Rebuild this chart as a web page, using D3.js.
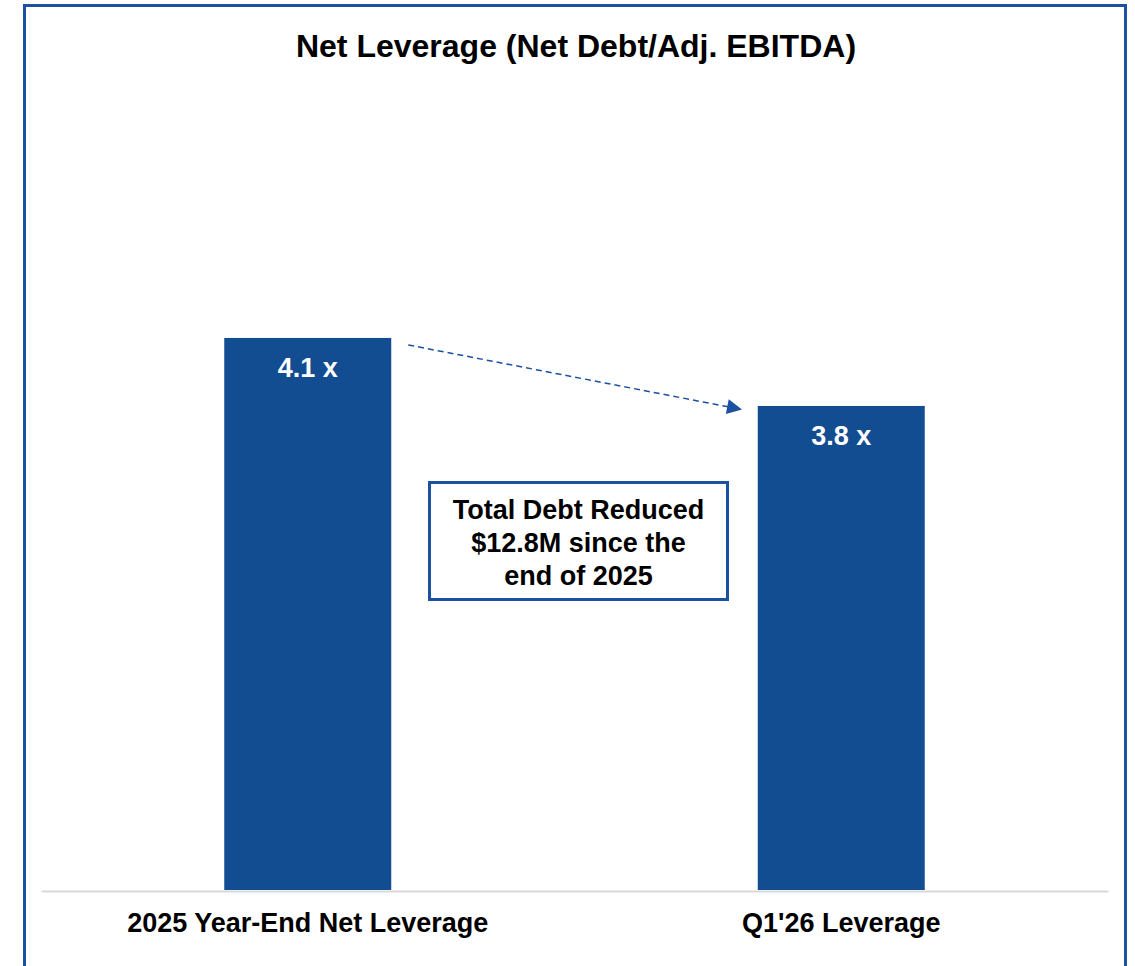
<!DOCTYPE html>
<html>
<head>
<meta charset="utf-8">
<script src="https://cdn.jsdelivr.net/npm/d3@7"></script>
<style>
  html, body { margin: 0; padding: 0; background: #fff; }
  svg { display: block; font-family: "Liberation Sans", Arial, sans-serif; }
</style>
</head>
<body>
<div id="chart"></div>
<script>
const title = "Net Leverage (Net Debt/Adj. EBITDA)";
const categories = ["2025 Year-End Net Leverage", "Q1'26 Leverage"];
const values = [4.1, 3.8];
const valueLabels = ["4.1 x", "3.8 x"];
const calloutLines = ["Total Debt Reduced", "$12.8M since the", "end of 2025"];

const W = 1135, H = 966;
const blue = "#124C91";
const borderBlue = "#1C50A0";

const svg = d3.select("#chart").append("svg").attr("width", W).attr("height", H);

// outer frame
svg.append("rect")
  .attr("x", 24.5).attr("y", 5.5).attr("width", 1101).attr("height", 980)
  .attr("fill", "none").attr("stroke", borderBlue).attr("stroke-width", 3);

// title
svg.append("text")
  .attr("x", 576).attr("y", 57)
  .attr("text-anchor", "middle")
  .attr("font-size", 32).attr("font-weight", "bold").attr("fill", "#000")
  .text(title);

const x = d3.scaleBand().domain(categories).range([41, 1108])
  .paddingInner(0.687).paddingOuter(0.3435);
const y = d3.scaleLinear().domain([1.664, 5]).range([890, 134]);

// bars
svg.selectAll("rect.bar").data(values).join("rect")
  .attr("class", "bar")
  .attr("x", (d, i) => x(categories[i]))
  .attr("y", d => y(d))
  .attr("width", x.bandwidth())
  .attr("height", d => y.range()[0] - y(d))
  .attr("fill", blue);

// value labels inside bars
svg.selectAll("text.val").data(values).join("text")
  .attr("class", "val")
  .attr("x", (d, i) => x(categories[i]) + x.bandwidth() / 2)
  .attr("y", d => y(d) + 39)
  .attr("text-anchor", "middle")
  .attr("font-size", 27).attr("font-weight", "bold").attr("fill", "#fff")
  .text((d, i) => valueLabels[i]);

// x axis baseline
const axis = svg.append("g").attr("transform", `translate(0,${y.range()[0] + 1})`)
  .call(d3.axisBottom(x).tickSize(0).tickPadding(22));
axis.select(".domain").attr("stroke", "#d9d9d9").attr("stroke-width", 2);
axis.selectAll(".tick text")
  .attr("font-family", "Liberation Sans, Arial, sans-serif")
  .attr("font-size", 27).attr("font-weight", "bold").attr("fill", "#000");

// dashed arrow from first bar to second
const defs = svg.append("defs");
defs.append("marker")
  .attr("id", "arrowhead")
  .attr("viewBox", "0 0 10 10")
  .attr("refX", 1).attr("refY", 5)
  .attr("markerWidth", 16).attr("markerHeight", 15)
  .attr("markerUnits", "userSpaceOnUse")
  .attr("orient", "auto")
  .append("path").attr("d", "M0,0 L10,5 L0,10 Z").attr("fill", borderBlue);

const x0 = x(categories[0]) + x.bandwidth() + 17;
const x1 = x(categories[1]) - 13;
svg.append("line")
  .attr("x1", x0).attr("y1", y(values[0]) + 7)
  .attr("x2", x1 - 16).attr("y2", y(values[1]) + 1)
  .attr("stroke", borderBlue).attr("stroke-width", 1.5)
  .attr("stroke-dasharray", "6,4")
  .attr("marker-end", "url(#arrowhead)");

// callout box
const box = svg.append("g");
box.append("rect")
  .attr("x", 429.5).attr("y", 482.5).attr("width", 298).attr("height", 117)
  .attr("fill", "#fff").attr("stroke", borderBlue).attr("stroke-width", 3);
box.selectAll("text").data(calloutLines).join("text")
  .attr("x", 578.5)
  .attr("y", (d, i) => 519 + i * 33)
  .attr("text-anchor", "middle")
  .attr("font-size", 27).attr("font-weight", "bold").attr("fill", "#000")
  .text(d => d);
</script>
</body>
</html>
